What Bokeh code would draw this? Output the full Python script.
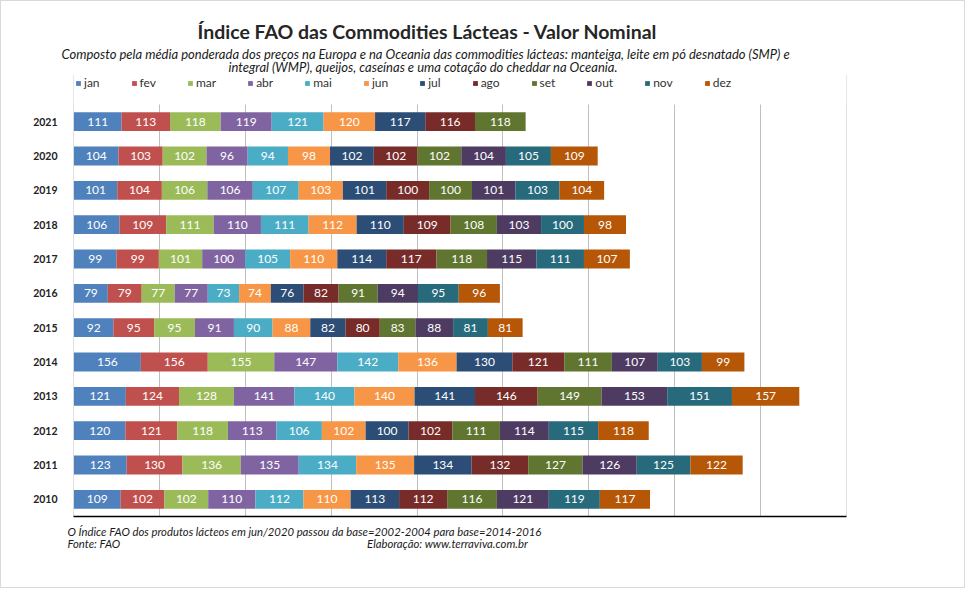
from bokeh.plotting import figure
from bokeh.models import (ColumnDataSource, Range1d, FixedTicker, BoxAnnotation,
                          Legend, LegendItem, Title)
from bokeh.embed import file_html
from bokeh.resources import INLINE
from bokeh.core.properties import value

# ---------------- data ----------------
years = [str(y) for y in range(2010, 2022)]
months = ["jan", "fev", "mar", "abr", "mai", "jun", "jul", "ago", "set", "out", "nov", "dez"]

jan = [109, 123, 120, 121, 156, 92, 79, 99, 106, 101, 104, 111]
fev = [102, 130, 121, 124, 156, 95, 79, 99, 109, 104, 103, 113]
mar = [102, 136, 118, 128, 155, 95, 77, 101, 111, 106, 102, 118]
abr = [110, 135, 113, 141, 147, 91, 77, 100, 110, 106, 96, 119]
mai = [112, 134, 106, 140, 142, 90, 73, 105, 111, 107, 94, 121]
jun = [110, 135, 102, 140, 136, 88, 74, 110, 112, 103, 98, 120]
jul = [113, 134, 100, 141, 130, 82, 76, 114, 110, 101, 102, 117]
ago = [112, 132, 102, 146, 121, 80, 82, 117, 109, 100, 102, 116]
set_ = [116, 127, 111, 149, 111, 83, 91, 118, 108, 100, 102, 118]
out = [121, 126, 114, 153, 107, 88, 94, 115, 103, 101, 104, None]
nov = [119, 125, 115, 151, 103, 81, 95, 111, 100, 103, 105, None]
dez = [117, 122, 118, 157, 99, 81, 96, 107, 98, 104, 109, None]

series = [jan, fev, mar, abr, mai, jun, jul, ago, set_, out, nov, dez]

colors = ["#4F81BD", "#C0504D", "#9BBB59", "#8064A2", "#4BACC6", "#F79646",
          "#2C4D75", "#772C2A", "#5F7530", "#4D3B62", "#276A7C", "#B65708"]

title_txt = "Índice FAO das Commodities Lácteas - Valor Nominal"
sub1 = "Composto pela média ponderada dos preços  na Europa e na Oceania das commodities  lácteas:  manteiga,  leite em pó desnatado (SMP) e"
sub2 = "integral (WMP), queijos, caseínas e uma cotação do cheddar na Oceania."
foot1 = "O Índice FAO dos produtos lácteos em jun/2020 passou da base=2002-2004 para base=2014-2016"
foot2 = "Fonte: FAO"
foot3 = "Elaboração:  www.terraviva.com.br"

FONT = "Lato"

# ---------------- sources ----------------
ypos = [i + 0.5 for i in range(len(years))]   # one row per year, 2010 at the bottom
data = {"year": years, "ypos": ypos}
for m, s in zip(months, series):
    data[m] = [0 if v is None else v for v in s]
src = ColumnDataSource(data)

lx, ly, lt = [], [], []
for i, yr in enumerate(years):
    cum = 0
    for s in series:
        v = s[i]
        if v is None:
            continue
        lx.append(cum + v / 2)
        ly.append(ypos[i])
        lt.append(str(v))
        cum += v
lsrc = ColumnDataSource(dict(x=lx, y=ly, t=lt))

# ---------------- figure ----------------
FL, FT, FR, FB = 72, 73, 120, 73
ROW = 412 / 12.0
y_top = len(years) + 30 / ROW    # room for the legend row above the bars
p = figure(width=965, height=588, y_range=Range1d(0, y_top),
           x_range=Range1d(-1, 1801), output_backend="svg", toolbar_location=None,
           min_border_left=FL, min_border_top=FT, min_border_right=FR, min_border_bottom=FB)
p.styles = {"border": "1px solid #D9D9D9"}
p.outline_line_color = None
p.background_fill_color = "white"
p.border_fill_color = "white"

rs = p.hbar_stack(months, y="ypos", height=0.55, color=colors, source=src, line_color=None)

p.text(x="x", y="y", text="t", source=lsrc, text_align="center", text_baseline="middle",
       text_color="white", text_font=value(FONT), text_font_size="12px")

# axes
ticks = list(range(0, 2000, 200))
p.xaxis.ticker = FixedTicker(ticks=ticks)
p.xaxis.major_label_text_color = None
p.xaxis.major_label_text_font_size = "1px"
p.xaxis.major_label_standoff = 0
p.xaxis.major_tick_line_color = None
p.xaxis.minor_tick_line_color = None
p.xaxis.axis_line_color = "black"
p.xaxis.axis_line_width = 1.5

p.yaxis.ticker = FixedTicker(ticks=ypos)
p.yaxis.major_label_overrides = {y: yr for y, yr in zip(ypos, years)}
p.yaxis.axis_line_color = None
p.yaxis.major_tick_line_color = None
p.yaxis.minor_tick_line_color = None
p.yaxis.major_label_text_font = FONT
p.yaxis.major_label_text_font_style = "bold"
p.yaxis.major_label_text_font_size = "10.5px"
p.yaxis.major_label_text_color = "#222222"
p.yaxis.major_label_standoff = 10

p.xgrid.ticker = FixedTicker(ticks=ticks)
p.xgrid.grid_line_color = "#BFBFBF"
p.xgrid.grid_line_width = 1
p.ygrid.grid_line_color = None

# gridlines stop at the top of the bar area (legend row stays clean)
p.add_layout(BoxAnnotation(bottom=len(years), fill_color="white", fill_alpha=1.0,
                           line_color=None, level="underlay"))

items = [LegendItem(label=m, renderers=[r]) for m, r in zip(months, rs)]
leg = Legend(items=items, orientation="horizontal", location=(2, 426),
             glyph_width=6, glyph_height=6, label_standoff=3, label_width=0,
             label_height=14, spacing=31, padding=0, margin=0,
             label_text_font=FONT, label_text_font_size="12px", label_text_color="#333333",
             border_line_color=None, background_fill_alpha=0)
p.add_layout(leg, "center")


def title(text, offset, size, style, standoff, side, color="#1a1a1a"):
    t = Title(text=text, align="left", offset=offset, standoff=standoff,
              text_font=FONT, text_font_size=size, text_font_style=style,
              text_color=color)
    p.add_layout(t, side)


# above: first added is nearest the frame
title(sub2, 155, "13px", "italic", -1, "above")
title(sub1, -12, "13px", "italic", -9, "above")
title(title_txt, 124, "19.5px", "bold", 11, "above", "#262626")

# below: after the x axis
title(foot1, -6, "11.3px", "italic", 1, "below")
gap = "\u2003" * 31 + "\u00a0" * 2
title(foot2 + gap + foot3, -6, "11.3px", "italic", -7, "below")

open("out.html", "w").write(file_html(p, INLINE))
